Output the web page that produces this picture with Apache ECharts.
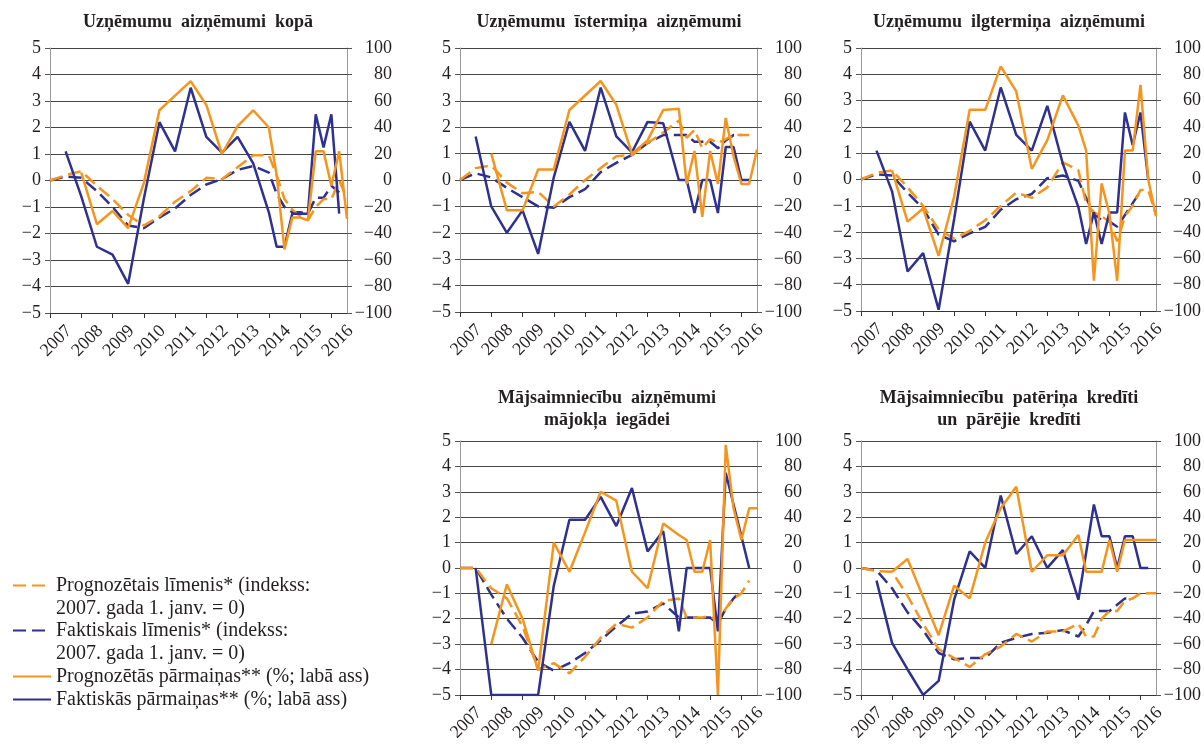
<!DOCTYPE html>
<html>
<head>
<meta charset="utf-8">
<title>Aizņēmumu prognozes un faktiskās pārmaiņas</title>
<script src="https://cdn.jsdelivr.net/npm/echarts@6/dist/echarts.min.js"></script>
<style>
  html, body { margin: 0; padding: 0; background: #fff; }
  #chart { width: 1204px; height: 744px; }
</style>
</head>
<body>
<div id="chart"></div>
<script>
// half-year points up to 2014, quarterly after that (decimal years)
const periods = [2007, 2007.5, 2008, 2008.5, 2009, 2009.5, 2010, 2010.5, 2011, 2011.5, 2012, 2012.5, 2013, 2013.5,
  2014, 2014.25, 2014.5, 2014.75, 2015, 2015.25, 2015.5, 2015.75, 2016, 2016.25, 2016.5]

const seriesNames = [
  'Prognozētais līmenis* (indekss:\n2007. gada 1. janv. = 0)',
  'Faktiskais līmenis* (indekss:\n2007. gada 1. janv. = 0)',
  'Prognozētās pārmaiņas** (%; labā ass)',
  'Faktiskās pārmaiņas** (%; labā ass)'
]

const panelTitles = [
  'Uzņēmumu  aizņēmumi  kopā',
  'Uzņēmumu  īstermiņa  aizņēmumi',
  'Uzņēmumu  ilgtermiņa  aizņēmumi',
  'Mājsaimniecību  aizņēmumi\nmājokļa  iegādei',
  'Mājsaimniecību  patēriņa  kredīti\nun  pārējie  kredīti'
]

// Uzņēmumu aizņēmumi kopā
const kopaForecastLevel = [0, 0.2, 0.35, -0.2, -0.7, -1.3, -1.7, -1.35, -0.8, -0.4, 0.1, 0.05, 0.5, 0.95, 0.95, 0.2, -0.7, -1.1, -1.35, -1.5, -1.0, -0.7, -0.7, 0.0, -0.7]
const kopaActualLevel = [0, 0.15, 0.1, -0.4, -1.0, -1.7, -1.8, -1.4, -1.05, -0.55, -0.15, 0.05, 0.4, 0.55, 0.3, -0.5, -1.0, -1.2, -1.2, -1.25, -0.65, -0.65, -0.2, -0.45, null]
const kopaForecastChange = [null, null, 6, -33, -23, -36, -2, 53, 64, 75, 57, 20, 41, 53, 40, 4, -52, -28, -28, -30, 22, 22, -4, 22, -29]
const kopaActualChange = [null, 22, -12, -50, -56, -78, -14, 44, 22, 70, 33, 21, 33, 13, -24, -50, -50, -25, -25, -25, 50, 25, 50, -25, null]

// Uzņēmumu īstermiņa aizņēmumi
const isForecastLevel = [0, 0.45, 0.55, -0.1, -0.5, -0.45, -1.0, -0.55, 0.0, 0.45, 0.9, 0.95, 1.4, 1.8, 2.25, 1.6, 1.9, 1.2, 1.55, 1.4, 1.55, 1.7, 1.7, 1.7, null]
const isActualLevel = [0, 0.25, 0.1, -0.3, -0.65, -1.0, -1.05, -0.65, -0.35, 0.3, 0.65, 0.95, 1.4, 1.7, 1.7, 1.7, 1.45, 1.45, 1.45, 1.2, 1.5, 1.7, 1.7, null, null]
const isForecastChange = [null, null, 20, -23, -23, 8, 8, 53, 64, 75, 57, 20, 30, 53, 54, -3, 22, -28, 22, -3, 47, 18, -3, -3, 23]
const isActualChange = [null, 33, -20, -40, -23, -56, 2, 44, 22, 70, 33, 21, 44, 43, 0, 0, -25, 0, 0, -25, 25, 25, 0, 0, null]

// Uzņēmumu ilgtermiņa aizņēmumi
const ilgForecastLevel = [0, 0.25, 0.35, -0.3, -1.0, -1.9, -2.25, -1.95, -1.55, -1.0, -0.5, -0.7, -0.3, 0.65, 0.35, -0.9, -1.25, -1.4, -1.6, -2.35, -1.4, -1.0, -0.4, -0.4, -1.35]
const ilgActualLevel = [0, 0.2, 0.15, -0.5, -1.1, -2.1, -2.35, -2.05, -1.8, -1.15, -0.75, -0.55, 0.05, 0.15, -0.05, -0.7, -1.3, -1.55, -1.6, -1.8, -1.35, -0.9, -0.45, null, null]
const ilgForecastChange = [null, null, 7, -32, -22, -58, -13, 53, 53, 86, 67, 8, 30, 64, 41, 22, -77, -3, -26, -77, 22, 22, 72, 0, -28]
const ilgActualChange = [null, 22, -9, -70, -56, -99, -30, 44, 22, 70, 34, 22, 56, 12, -21, -49, -25, -49, -25, -25, 51, 26, 51, 0, null]

// Mājsaimniecību aizņēmumi mājokļa iegādei
const majForecastLevel = [0, 0, -0.8, -1.2, -2.3, -4.0, -3.75, -4.15, -3.5, -2.75, -2.2, -2.35, -1.95, -1.3, -1.2, -1.95, -1.95, -1.95, -1.9, -2.1, -1.6, -1.2, -1.0, -0.5, null]
const majActualLevel = [0, 0, -1.05, -2.0, -2.75, -3.7, -4.05, -3.75, -3.35, -2.85, -2.3, -1.8, -1.72, -1.4, -1.95, -1.95, -1.95, -1.95, -1.95, -2.2, -1.6, -1.2, -0.9, null, null]
const majForecastChange = [null, null, -60, -13, -40, -81, 20, -3, 28, 60, 53, -3, -16, 35, 26, 22, -3, -3, 22, -100, 97, 47, 22, 47, 47]
const majActualChange = [null, 0, -100, -100, -100, -100, -14, 38, 38, 56, 33, 63, 13, 29, -50, 0, 0, 0, 0, -50, 75, 50, 25, 0, null]

// Mājsaimniecību patēriņa kredīti un pārējie kredīti
const patForecastLevel = [0, -0.12, -0.15, -1.1, -2.2, -3.2, -3.55, -3.9, -3.4, -3.1, -2.6, -2.9, -2.5, -2.5, -2.2, -2.7, -2.7, -2.0, -1.7, -1.7, -1.3, -1.2, -1.0, -1.0, -1.0]
const patActualLevel = [0, -0.1, -0.8, -1.75, -2.45, -3.35, -3.6, -3.55, -3.55, -2.95, -2.75, -2.6, -2.55, -2.45, -2.7, -2.25, -1.7, -1.7, -1.7, -1.45, -1.2, -1.2, null, null, null]
const patForecastChange = [null, null, -3, 7, -23, -53, -14, -24, 20, 47, 64, -3, 10, 10, 26, -3, -3, -3, 22, -3, 22, 22, 22, 22, 22]
const patActualChange = [null, -10, -59, -80, -100, -89, -25, 13, 0, 57, 11, 25, 0, 14, -25, 12, 50, 25, 25, 0, 25, 25, 0, 0, null]

const panels = [
  { level: [kopaForecastLevel, kopaActualLevel], change: [kopaForecastChange, kopaActualChange] },
  { level: [isForecastLevel, isActualLevel], change: [isForecastChange, isActualChange] },
  { level: [ilgForecastLevel, ilgActualLevel], change: [ilgForecastChange, ilgActualChange] },
  { level: [majForecastLevel, majActualLevel], change: [majForecastChange, majActualChange] },
  { level: [patForecastLevel, patActualLevel], change: [patForecastChange, patActualChange] }
]

const grids = [
  { left: 50, top: 48, width: 297, height: 265 },
  { left: 460, top: 48, width: 297, height: 264 },
  { left: 861, top: 48, width: 296, height: 263 },
  { left: 460, top: 441, width: 297, height: 262 },
  { left: 861, top: 441, width: 296, height: 262 }
]
const titlePos = [[198, 11], [609, 11], [1009, 11], [607, 387], [1009, 387]]

const ORANGE = '#F7941D'
const NAVY = '#2E3192'
const TEXT = '#231F20'
const FONT = 'Liberation Serif'

const minus = v => String(v).replace('-', '\u2212')
const toPoints = arr => periods.map((p, i) => [p, arr[i]]).filter(d => d[1] !== null)

const xAxes = grids.map((g, i) => ({
  type: 'value',
  gridIndex: i,
  min: 2007,
  max: 2016.5,
  interval: 1,
  axisLine: { onZero: false, lineStyle: { color: '#333', width: 1 } },
  axisTick: { show: true, length: 5, lineStyle: { color: '#333' } },
  splitLine: { show: false },
  axisLabel: {
    rotate: 45,
    align: 'left',
    verticalAlign: 'bottom',
    margin: 47,
    showMaxLabel: false,
    fontFamily: FONT,
    fontSize: 18,
    color: TEXT,
    formatter: v => (Number.isInteger(v) ? String(v) : '')
  }
}))

const yAxes = []
grids.forEach((g, i) => {
  yAxes.push({
    type: 'value',
    gridIndex: i,
    position: 'left',
    min: -5,
    max: 5,
    interval: 1,
    axisLine: { show: true, lineStyle: { color: '#999' } },
    axisTick: { show: true, length: 5, lineStyle: { color: '#555' } },
    splitLine: { show: true, lineStyle: { color: '#444', width: 1 } },
    axisLabel: { margin: 9, fontFamily: FONT, fontSize: 18, color: TEXT, formatter: minus }
  })
  yAxes.push({
    type: 'value',
    gridIndex: i,
    position: 'right',
    min: -100,
    max: 100,
    interval: 20,
    axisLine: { show: true, lineStyle: { color: '#999' } },
    axisTick: { show: true, length: 5, lineStyle: { color: '#555' } },
    splitLine: { show: false },
    axisLabel: { margin: 45, align: 'right', fontFamily: FONT, fontSize: 18, color: TEXT, formatter: minus }
  })
})

const series = []
panels.forEach((p, i) => {
  const base = { type: 'line', xAxisIndex: i, symbol: 'none', animation: false }
  series.push({ ...base, name: seriesNames[1], yAxisIndex: 2 * i,
    lineStyle: { color: NAVY, width: 2.5, type: [13, 6] }, itemStyle: { color: NAVY }, data: toPoints(p.level[1]) })
  series.push({ ...base, name: seriesNames[0], yAxisIndex: 2 * i,
    lineStyle: { color: ORANGE, width: 2.5, type: [13, 6] }, itemStyle: { color: ORANGE }, data: toPoints(p.level[0]) })
  series.push({ ...base, name: seriesNames[3], yAxisIndex: 2 * i + 1,
    lineStyle: { color: NAVY, width: 2.5 }, itemStyle: { color: NAVY }, data: toPoints(p.change[1]) })
  series.push({ ...base, name: seriesNames[2], yAxisIndex: 2 * i + 1,
    lineStyle: { color: ORANGE, width: 2.5 }, itemStyle: { color: ORANGE }, data: toPoints(p.change[0]) })
})

// one legend block per entry, the two-line entries get a blank first line so the icon sits on line one
const legendTops = [551, 596, 665, 688]
const legends = seriesNames.map((name, k) => ({
  data: [name],
  left: 12,
  top: legendTops[k],
  padding: 0,
  orient: 'vertical',
  itemWidth: 38,
  itemHeight: 14,
  // hide the marker dot, keep only the line
  itemStyle: { color: 'rgba(0,0,0,0)', borderWidth: 0, opacity: 0 },
  formatter: n => (n.indexOf('\n') >= 0 ? '\n' + n : n),
  textStyle: { fontFamily: FONT, fontSize: 20, lineHeight: 23, color: TEXT }
}))

const titles = panelTitles.map((t, i) => ({
  text: t,
  left: titlePos[i][0],
  top: titlePos[i][1],
  textAlign: 'center',
  padding: 0,
  textStyle: { fontFamily: FONT, fontSize: 18, fontWeight: 'bold', color: TEXT, lineHeight: 22 }
}))

const myChart = echarts.init(document.getElementById('chart'), null, { renderer: 'canvas' })
myChart.setOption({
  animation: false,
  backgroundColor: '#fff',
  title: titles,
  legend: legends,
  grid: grids.map(g => ({ ...g, containLabel: false })),
  xAxis: xAxes,
  yAxis: yAxes,
  series: series
})
</script>
</body>
</html>
